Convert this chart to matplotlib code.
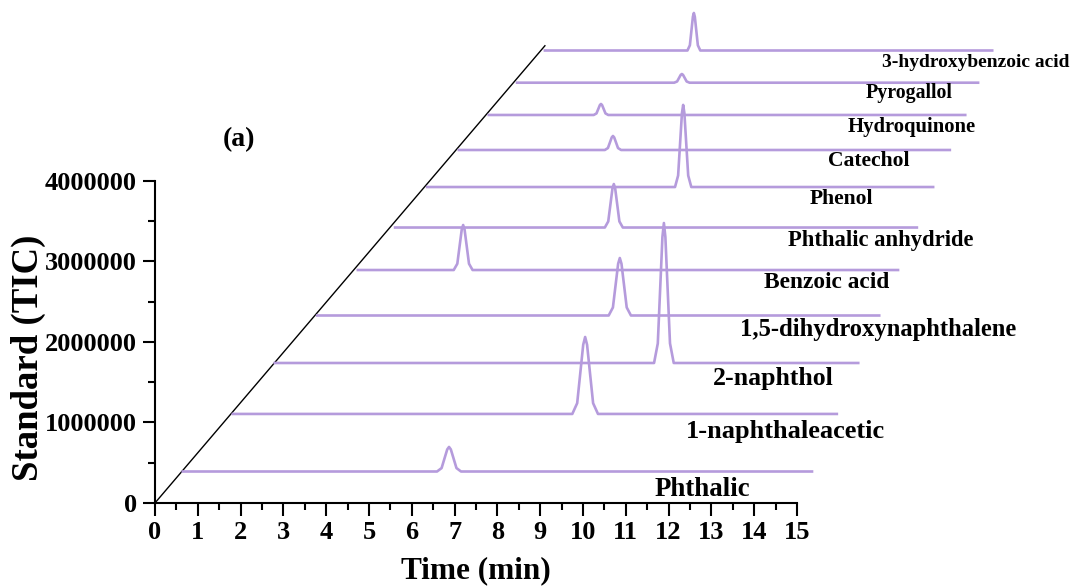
import matplotlib
matplotlib.use("Agg")
import matplotlib.pyplot as plt
from matplotlib.ticker import MultipleLocator

# Times-like bold font for everything
plt.rcParams['font.family'] = ['Liberation Serif', 'DejaVu Serif']
plt.rcParams['font.weight'] = 'bold'
plt.rcParams['axes.labelweight'] = 'bold'

# compounds, from bottom trace to top trace
compounds = ["Phthalic", "1-naphthaleacetic", "2-naphthol", "1,5-dihydroxynaphthalene",
             "Benzoic acid", "Phthalic anhydride", "Phenol", "Catechol",
             "Hydroquinone", "Pyrogallol", "3-hydroxybenzoic acid"]

# waterfall traces, read in the shifted axis units (min, TIC)
trace_start = [0.65, 1.82, 2.80, 3.79, 4.74, 5.61, 6.36, 7.10, 7.80, 8.46, 9.11]
trace_end = [15.35, 15.93, 16.43, 16.92, 17.36, 17.80, 18.18, 18.57, 18.93, 19.23, 19.56]
baseline = [0.391e6, 1.106e6, 1.739e6, 2.329e6, 2.894e6, 3.422e6,
            3.925e6, 4.385e6, 4.820e6, 5.221e6, 5.621e6]
peak_time = [6.87, 10.05, 11.89, 10.86, 7.20, 10.72, 12.34, 10.70, 10.42, 12.31, 12.59]
peak_height = [0.305e6, 0.956e6, 1.739e6, 0.714e6, 0.559e6, 0.540e6,
               1.020e6, 0.174e6, 0.137e6, 0.108e6, 0.466e6]
peak_halfwidth = [0.28, 0.30, 0.23, 0.26, 0.22, 0.21, 0.19, 0.19, 0.17, 0.18, 0.15]

# depth axis (diagonal line)
depth_x = [0, 9.11]
depth_y = [0, 5.68e6]

# compound labels under each trace
label_x = [12.80, 14.72, 14.44, 16.89, 15.70, 16.96, 16.03, 16.68, 17.69, 17.62, 19.18]
label_y = [0.17e6, 0.89e6, 1.55e6, 2.16e6, 2.745e6, 3.265e6,
           3.775e6, 4.25e6, 4.67e6, 5.095e6, 5.47e6]
label_size = [19.4, 19, 18.5, 17.7, 16.8, 16.3, 15.6, 15.6, 14.9, 14.3, 14]

x_ticks = list(range(0, 16))
y_ticks = [0, 1000000, 2000000, 3000000, 4000000]

trace_color = '#B59BDC'

fig = plt.figure(figsize=(10.74, 5.88), dpi=100)
ax = fig.add_axes([0.1443, 0.1446, 0.5978, 0.5476])

ax.plot(depth_x, depth_y, color='black', lw=1.0, clip_on=False)

for i in range(len(compounds)):
    b = baseline[i]
    c = peak_time[i]
    w = peak_halfwidth[i]
    h = peak_height[i]
    # peak outline: foot, knee, rounded top, knee, foot
    xs = [trace_start[i], c - w, c - 0.62 * w, c - 0.15 * w, c,
          c + 0.15 * w, c + 0.62 * w, c + w, trace_end[i]]
    ys = [b, b, b + 0.14 * h, b + 0.9 * h, b + h,
          b + 0.9 * h, b + 0.14 * h, b, b]
    ax.plot(xs, ys, color=trace_color, lw=1.9, clip_on=False, solid_joinstyle='round')
    ax.text(label_x[i], label_y[i], compounds[i], fontsize=label_size[i],
            ha='center', va='center')

ax.text(1.96, 4.52e6, "(a)", fontsize=20, ha='center', va='center')

ax.set_xlim(0, 15)
ax.set_ylim(0, 4000000)
ax.set_xticks(x_ticks)
ax.set_yticks(y_ticks)
ax.set_yticklabels([str(v) for v in y_ticks])
ax.xaxis.set_minor_locator(MultipleLocator(0.5))
ax.yaxis.set_minor_locator(MultipleLocator(500000))

for side in ['top', 'right']:
    ax.spines[side].set_visible(False)
for side in ['left', 'bottom']:
    ax.spines[side].set_linewidth(1.5)

ax.tick_params(which='major', direction='out', length=9, width=1.5, labelsize=19, pad=4)
ax.tick_params(which='minor', direction='out', length=5, width=1.5)

ax.set_xlabel("Time (min)", fontsize=22.5)
ax.set_ylabel("Standard (TIC)", fontsize=26.5)
ax.xaxis.set_label_coords(0.5, -0.165)
ax.yaxis.set_label_coords(-0.17, 0.45)

fig.savefig("out.png", dpi=100)
